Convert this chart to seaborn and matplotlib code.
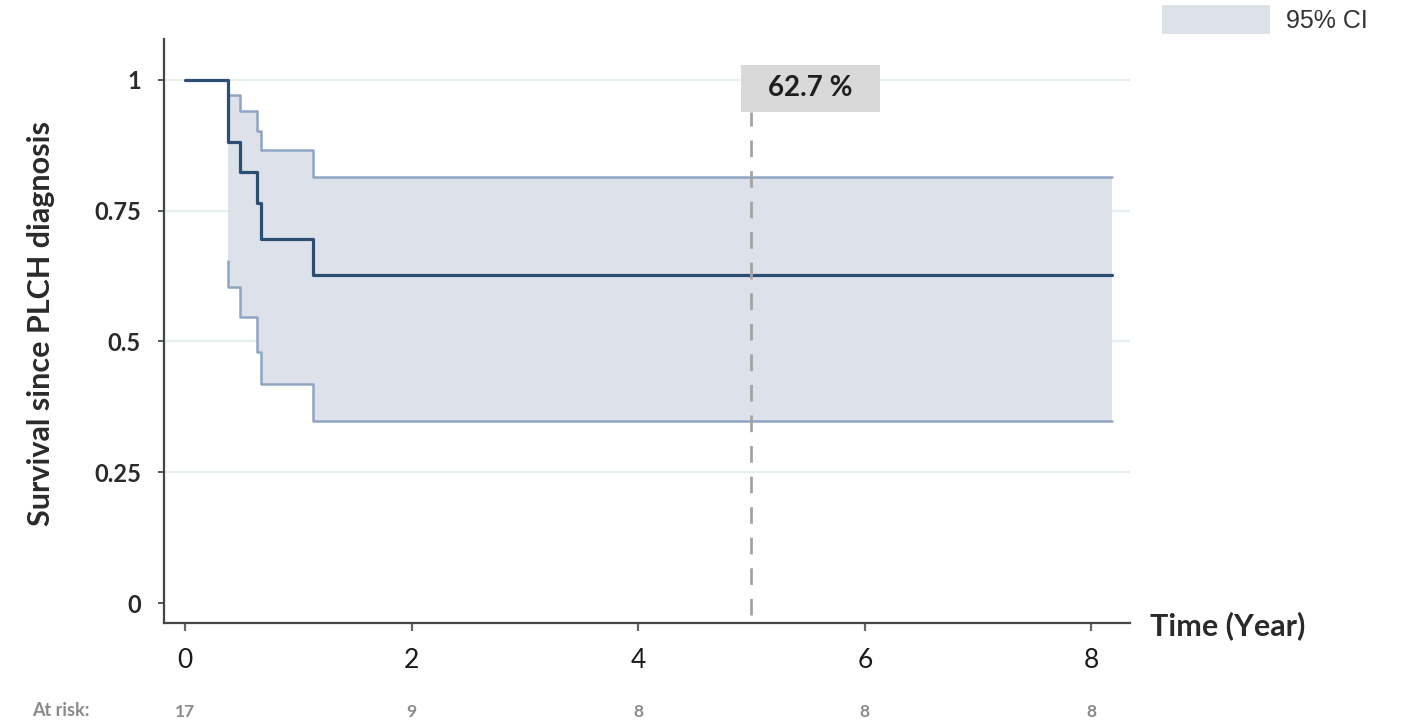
import matplotlib
matplotlib.use("Agg")
import matplotlib.pyplot as plt
from matplotlib.patches import Patch, Rectangle
import numpy as np
import pandas as pd
import seaborn as sns

# Kaplan-Meier estimate (time in years)
km_time = [0.0, 0.38, 0.49, 0.64, 0.67, 1.13, 8.18]
km_survival = [1.0, 0.882, 0.824, 0.765, 0.696, 0.627, 0.627]

# 95% confidence band
ci_time = [0.38, 0.38, 0.49, 0.64, 0.67, 1.13, 8.18]
ci_upper = [0.971, 0.971, 0.941, 0.903, 0.865, 0.814, 0.814]
ci_lower = [0.653, 0.604, 0.546, 0.479, 0.419, 0.348, 0.348]

# Landmark
landmark_year = 5
landmark_label = "62.7 %"
landmark_value = 0.627

# Axis ticks and number at risk
x_ticks = [0, 2, 4, 6, 8]
y_ticks = [0, 0.25, 0.5, 0.75, 1]
y_tick_labels = ["0", "0.25", "0.5", "0.75", "1"]
at_risk = [17, 9, 8, 8, 8]

LINE = "#2c4e72"
CI_LINE = "#8ea6c2"
CI_FILL = "#dde2ea"
GRID = "#e5eef0"
SPINE = "#454545"

sns.set_theme(style="white")
plt.rcParams["font.family"] = ["Lato", "DejaVu Sans"]

fig = plt.figure(figsize=(14.04, 7.24), dpi=100)
ax = fig.add_axes([0.1168, 0.1395, 0.688, 0.806])

km_df = pd.DataFrame({"time": km_time, "survival": km_survival})
ci_df = pd.DataFrame({"time": ci_time, "upper": ci_upper, "lower": ci_lower})

# confidence band
ax.fill_between(ci_df["time"], ci_df["lower"], ci_df["upper"], step="post",
                color=CI_FILL, linewidth=0, zorder=1)
sns.lineplot(data=ci_df, x="time", y="upper", ax=ax, color=CI_LINE, lw=1.8,
             drawstyle="steps-post", estimator=None, sort=False, zorder=2)
sns.lineplot(data=ci_df, x="time", y="lower", ax=ax, color=CI_LINE, lw=1.8,
             drawstyle="steps-post", estimator=None, sort=False, zorder=2)

# survival curve
sns.lineplot(data=km_df, x="time", y="survival", ax=ax, color=LINE, lw=2.3,
             drawstyle="steps-post", estimator=None, sort=False, zorder=3)

# horizontal grid (no line at zero)
for yv in y_ticks[1:]:
    ax.axhline(yv, color=GRID, lw=1.6, zorder=0)

# landmark marker with its label box
ax.plot([landmark_year, landmark_year], [-0.023, 0.939], color="#a3a3a3",
        lw=2, dashes=(6, 5), zorder=4)
ax.add_patch(Rectangle((landmark_year - 0.09, 0.939), 1.225, 0.09,
                       facecolor="#d9d9d9", edgecolor="none", zorder=5))
ax.text(landmark_year + 0.52, 0.984, landmark_label, ha="center",
        va="center", fontsize=20, fontweight="bold", color="#1e1e1e",
        zorder=6)

ax.set_xlim(-0.185, 8.34)
ax.set_ylim(-0.038, 1.077)

ax.set_xticks(x_ticks)
ax.set_xticklabels([str(t) for t in x_ticks], fontsize=19, color="#1a1a1a")
ax.set_yticks(y_ticks)
ax.set_yticklabels(y_tick_labels, fontsize=17, fontweight="bold",
                   color="#2a2a2a")
ax.tick_params(axis="x", length=6, width=1.6, color="#666666", pad=12,
               bottom=True)
ax.tick_params(axis="y", length=4.5, width=1.4, color="#555555", pad=12,
               left=True)

for side in ["top", "right"]:
    ax.spines[side].set_visible(False)
for side in ["left", "bottom"]:
    ax.spines[side].set_color(SPINE)
    ax.spines[side].set_linewidth(1.6)

ax.set_xlabel("")
ax.set_ylabel("Survival since PLCH diagnosis", fontsize=22, fontweight="bold",
              color="#2a2a2a")
ax.yaxis.set_label_coords(-0.113, 0.513)

fig.text(1150 / 1404, 1 - 626 / 724, "Time (Year)", ha="left", va="center",
         fontsize=22, fontweight="bold", color="#2a2a2a")

# number at risk row
trans = matplotlib.transforms.blended_transform_factory(ax.transData,
                                                        fig.transFigure)
for t, n in zip(x_ticks, at_risk):
    ax.text(t, 1 - 712 / 724, str(n), transform=trans, ha="center",
            va="center", fontsize=12.5, fontweight="bold", color="#8a8a8a")
fig.text(90 / 1404, 1 - 711 / 724, "At risk:", ha="right",
         va="center", fontsize=13, fontweight="bold", color="#8a8a8a")

# legend
leg = fig.legend(handles=[Patch(facecolor=CI_FILL, edgecolor="none",
                                label="95% CI")],
                 loc="upper left", bbox_to_anchor=(1162 / 1404, 1 - 5 / 724),
                 frameon=False, handlelength=4.3, handleheight=1.4,
                 handletextpad=0.65, borderaxespad=0, borderpad=0,
                 prop={"family": ["Liberation Sans", "DejaVu Sans"],
                       "size": 18})
for txt in leg.get_texts():
    txt.set_color("#333333")

fig.savefig("out.png", dpi=100)
